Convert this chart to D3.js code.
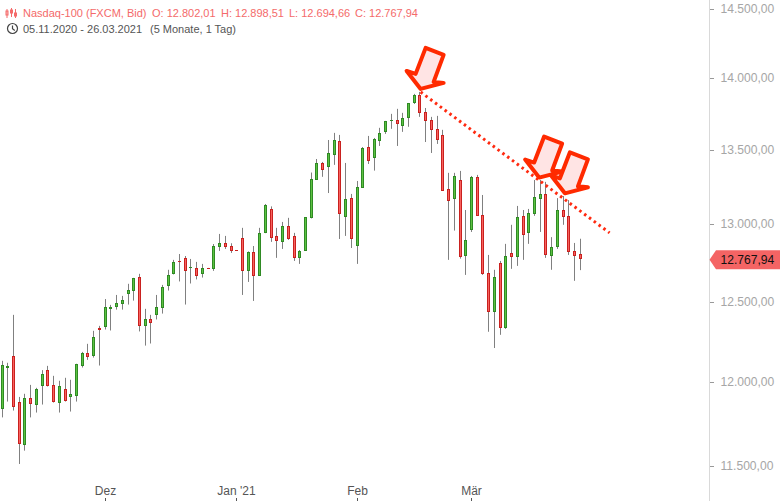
<!DOCTYPE html>
<html>
<head>
<meta charset="utf-8">
<script src="https://cdn.jsdelivr.net/npm/d3@7"></script>
<style>
  html, body { margin: 0; padding: 0; background: #fff; }
  svg { display: block; font-family: "Liberation Sans", Arial, sans-serif; }
</style>
</head>
<body>
<script>
const opens = [11834,12083,12154,11874,11620,11898,11858,11969,12069,11977,
  11870,11953,11906,11912,12095,12173,12156,12329,12331,12450,
  12462,12481,12545,12564,12652,12337,12385,12406,12456,12590,
  12667,12754,12774,12712,12709,12667,12707,12705,12847,12869,
  12849,12825,12902,12692,12810,12660,12935,13093,12915,12880,
  12981,12915,12776,12821,13038,13291,13402,13379,13460,13554,
  13044,13168,12854,13237,13513,13440,13554,13617,13689,13700,
  13661,13712,13820,13874,13756,13700,13638,13596,13228,13163,
  13289,12786,12957,13310,13055,12677,12429,12742,12329,12806,
  12780,13049,12937,13062,13161,13195,12786,12845,13088,13049,
  12819,12802.01];
const highs = [12124,12112,12410,11904,11923,11977,11959,12067,12093,12032,
  12002,12020,12008,12106,12179,12229,12310,12341,12510,12473,
  12536,12530,12607,12645,12671,12448,12410,12536,12600,12697,
  12761,12799,12786,12767,12748,12735,12709,12864,12930,12917,
  12869,12825,12970,12816,12851,12970,13128,13112,12970,13009,
  13036,12937,12825,13040,13339,13431,13411,13561,13610,13596,
  13404,13195,13282,13513,13589,13575,13645,13693,13742,13777,
  13749,13818,13882,13896,13783,13721,13728,13631,13337,13337,
  13350,13088,13316,13323,13188,12793,12697,12754,12865,12990,
  13115,13088,13095,13289,13289,13276,12909,13167,13181,13154,
  12871,12898.51];
const lows = [11781,11876,11822,11506,11584,11781,11810,11858,11967,11870,
  11810,11876,11816,11876,12083,12130,12144,12095,12318,12312,
  12443,12443,12475,12500,12306,12218,12231,12381,12418,12564,
  12667,12622,12475,12609,12635,12647,12703,12690,12819,12832,
  12806,12821,12536,12619,12498,12660,12935,12878,12774,12832,
  12891,12754,12735,12821,13032,13291,13310,13201,13391,12897,
  12917,12838,12735,13237,13397,13352,13520,13603,13638,13520,
  13617,13652,13811,13721,13547,13472,13534,13217,12761,12952,
  12769,12664,12943,13051,12664,12304,12203,12285,12322,12703,
  12722,12761,12865,13049,12943,12774,12697,12832,12990,12793,
  12626,12694.66];
const closes = [12100,12094,11846,11626,11898,11864,11953,12045,11973,11876,
  11971,11882,11923,12104,12173,12150,12272,12318,12460,12460,
  12485,12504,12568,12645,12343,12385,12356,12460,12587,12665,
  12748,12744,12692,12716,12660,12707,12705,12851,12869,12847,
  12821,12821,12692,12812,12660,12935,13121,12906,12886,12981,
  12897,12776,12816,13040,13296,13402,13359,13472,13561,13064,
  13161,12894,13242,13506,13420,13568,13610,13693,13700,13668,
  13714,13818,13874,13749,13695,13633,13564,13217,13150,13316,
  12780,12891,13310,13051,12671,12425,12652,12329,12786,12780,
  13042,12924,13068,13174,13195,12793,12844,13088,13042,12812,
  12786,12767.94];

const priceTicks = [11500,12000,12500,13000,13500,14000,14500];
const monthIndex = [18,41,62,82];
const monthLabels = ["Dez","Jan '21","Feb","Mär"];

// trend line and arrow tips, as [candle index, price]
const trendLine = [[73.2,13895],[106.2,12937]];
const arrowTips = [[73.2,13917],[93.9,13305],[98.4,13199]];

const headerParts = [["Nasdaq-100 (FXCM, Bid)",23],["O: 12.802,01",152],["H: 12.898,51",221],["L: 12.694,66",289],["C: 12.767,94",355]];
const rangeParts = [["05.11.2020 - 26.03.2021",23],["(5 Monate, 1 Tag)",150]];

const width = 780, height = 501, axisX = 709;

const x = d3.scaleLinear().domain([0,101]).rangeRound([1.55,579.8]);
const xExact = x.copy().interpolate(d3.interpolateNumber);
const y = d3.scaleLog().domain([11500,14500]).range([465,8]);
const num = d3.formatLocale({decimal:",",thousands:".",grouping:[3],currency:["","€"]}).format(",.2f");

const svg = d3.select("body").append("svg")
  .attr("width",width).attr("height",height).attr("viewBox",[0,0,width,height]);

// candles
const candles = svg.append("g").selectAll("g").data(d3.range(opens.length)).join("g")
  .attr("transform",i => `translate(${x(i)},0)`);
const up = i => closes[i] >= opens[i];
const bodyTop = i => Math.round(y(Math.max(opens[i],closes[i])));
const bodyH = i => Math.max(1,Math.round(y(Math.min(opens[i],closes[i]))) - bodyTop(i));

candles.append("line")
  .attr("x1",0.5).attr("x2",0.5)
  .attr("y1",i => y(highs[i])).attr("y2",i => y(lows[i]))
  .attr("stroke","#808080");
candles.append("rect")
  .attr("x",-1).attr("width",3)
  .attr("y",bodyTop).attr("height",bodyH)
  .attr("fill",i => up(i) ? "#2f8a24" : "#c9211f");
candles.append("rect")
  .attr("x",0).attr("width",1)
  .attr("y",i => bodyTop(i)+1).attr("height",i => Math.max(0,bodyH(i)-2))
  .attr("fill",i => up(i) ? "#5cc241" : "#f8625f");

// trend line
svg.append("path")
  .attr("d",d3.line().x(d => xExact(d[0])).y(d => y(d[1]))(trendLine))
  .attr("fill","none").attr("stroke","#ff2a10").attr("stroke-width",3)
  .attr("stroke-dasharray","2.5 3.5");

// hand drawn arrows, shape is relative to the tip
const arrowShape = [[0,0],[-14,-18],[-5,-15],[5,-41],[23,-34],[13,-7],[23,-6]];
svg.append("g").selectAll("path").data(arrowTips).join("path")
  .attr("transform",d => `translate(${xExact(d[0])},${y(d[1])})`)
  .attr("d",d3.line().curve(d3.curveLinearClosed)(arrowShape))
  .attr("fill","#ffe4e4").attr("stroke","#ff2a00").attr("stroke-width",4)
  .attr("stroke-linejoin","round");

// price axis
const yAxis = svg.append("g").attr("transform",`translate(${axisX},0)`)
  .call(d3.axisRight(y).tickValues(priceTicks).tickFormat(num).tickSize(4).tickPadding(7));
yAxis.select(".domain").remove();
yAxis.append("line").attr("x1",0.5).attr("x2",0.5).attr("y1",0).attr("y2",height).attr("stroke","#d9d9d9");
yAxis.selectAll(".tick").attr("transform",d => `translate(0,${Math.round(y(d))+1.5})`);
yAxis.selectAll(".tick line").attr("x1",1).attr("x2",5).attr("stroke","#999");
yAxis.selectAll(".tick text").attr("x",11.5).attr("dy","0.3em")
  .attr("fill","#a6a6a6").style("font-size","12.1px").style("font-family","inherit");

// last price tag
const last = closes[closes.length-1], lastY = y(last)+1;
svg.append("path")
  .attr("d",d3.line()([[axisX+0.5,lastY],[716,lastY-9.5],[width,lastY-9.5],[width,lastY+9.5],[716,lastY+9.5]]))
  .attr("fill","#f46464");
svg.append("text").attr("x",720.5).attr("y",lastY+4.5)
  .attr("fill","#111").style("font-size","12.1px").text(num(last));

// month axis
const xAxis = svg.append("g").attr("transform",`translate(0,${height-3})`)
  .call(d3.axisBottom(x).tickValues(monthIndex).tickFormat((d,i) => monthLabels[i]).tickSize(3));
xAxis.select(".domain").remove();
xAxis.selectAll(".tick line").attr("stroke","#555");
xAxis.selectAll(".tick text").attr("y",-3).attr("dy",0)
  .attr("fill","#555").style("font-size","12px").style("font-family","inherit");

// header
svg.append("g").selectAll("text").data(headerParts).join("text")
  .attr("x",d => d[1]).attr("y",17).attr("fill","#f46a6a").style("font-size","11px").text(d => d[0]);
svg.append("g").selectAll("text").data(rangeParts).join("text")
  .attr("x",d => d[1]).attr("y",33).attr("fill","#555").style("font-size","11px").text(d => d[0]);

// candle icon
const icon = svg.append("g").attr("stroke","#f46a6a").attr("fill","none");
[[7,9,18,11,15],[11.5,8,17,10,13],[15.5,9,18,13,16]].forEach(c => {
  icon.append("line").attr("x1",c[0]).attr("x2",c[0]).attr("y1",c[1]).attr("y2",c[2]);
  icon.append("rect").attr("x",c[0]-1).attr("width",2).attr("y",c[3]).attr("height",c[4]-c[3]);
});
// clock icon
const clock = svg.append("g").attr("stroke","#444").attr("fill","none").attr("stroke-width",1.2);
clock.append("circle").attr("cx",12.5).attr("cy",28.5).attr("r",5);
clock.append("path").attr("d","M12.5 25.5V28.8L14.8 30.5");
</script>
</body>
</html>
